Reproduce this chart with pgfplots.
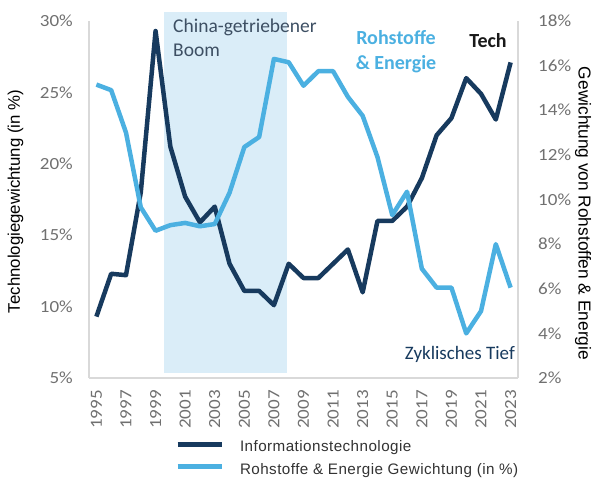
\documentclass[border=0pt]{standalone}
\usepackage{pgfplots}
\pgfplotsset{compat=1.18}
\usepackage{pgfplotstable}
\usepackage{fontspec}
\setmainfont{Carlito}
\newfontfamily\tickfont[FakeStretch=1.12]{Carlito}
\newfontfamily\arialfont{Liberation Sans}
\newfontfamily\legfont[LetterSpace=3]{Liberation Sans}
\definecolor{tech}{HTML}{173A5E}
\definecolor{rohst}{HTML}{4BB0E1}
\definecolor{shade}{HTML}{DAEDF8}
\definecolor{tickgray}{HTML}{707070}
\definecolor{axgray}{HTML}{D9D9D9}
\definecolor{annot}{HTML}{3D4F63}
\definecolor{legtext}{HTML}{333333}

\pgfplotstableread{
year val
1995 9.3
1996 12.3
1997 12.2
1998 18.0
1999 29.3
2000 21.2
2001 17.7
2002 15.9
2003 17.0
2004 13.0
2005 11.1
2006 11.1
2007 10.1
2008 13.0
2009 12.0
2010 12.0
2011 13.0
2012 14.0
2013 11.0
2014 16.0
2015 16.0
2016 17.0
2017 19.0
2018 22.0
2019 23.2
2020 26.0
2021 24.9
2022 23.1
2023 27.1
}\techdata

\pgfplotstableread{
year val
1995 15.15
1996 14.9
1997 13.0
1998 9.65
1999 8.6
2000 8.85
2001 8.95
2002 8.8
2003 8.9
2004 10.3
2005 12.35
2006 12.8
2007 16.3
2008 16.15
2009 15.1
2010 15.75
2011 15.75
2012 14.6
2013 13.75
2014 11.9
2015 9.3
2016 10.35
2017 6.9
2018 6.05
2019 6.05
2020 4.0
2021 5.0
2022 8.0
2023 6.05
}\rohdata

\begin{document}
\begin{tikzpicture}
\path[use as bounding box] (-89pt,-101pt) rectangle (504pt,378pt);
\begin{axis}[
  scale only axis, width=429pt, height=357pt,
  xmin=1994.5, xmax=2023.5, ymin=5, ymax=30,
  axis x line*=bottom, axis y line*=left,
  axis line style={-, draw=axgray, line width=1.2pt},
  major tick length=0pt,
  xtick={1995,1997,...,2023},
  xticklabels={1995,1997,1999,2001,2003,2005,2007,2009,2011,2013,2015,2017,2019,2021,2023},
  ytick={5,10,...,30},
  yticklabels={5\%,10\%,15\%,20\%,25\%,30\%},
  ticklabel style={font=\tickfont\fontsize{17}{17}\selectfont, text=tickgray},
  xticklabel style={rotate=90, anchor=east, inner sep=0pt},
  xticklabel shift=12pt,
  yticklabel style={anchor=east, inner sep=0pt},
  yticklabel shift=16pt,
  clip=false,
]
\addplot[fill=shade, draw=none] coordinates {(1999.55,5.35) (1999.55,30.65) (2007.9,30.65) (2007.9,5.35)} -- cycle;
\addplot[tech, line width=4.5pt, line join=round] table[x=year,y=val]{\techdata};
\end{axis}
\begin{axis}[
  scale only axis, width=429pt, height=357pt,
  xmin=1994.5, xmax=2023.5, ymin=2, ymax=18,
  axis x line=none, axis y line*=right,
  axis line style={-, draw=axgray, line width=1.2pt},
  major tick length=0pt,
  ytick={2,4,...,18},
  yticklabels={2\%,4\%,6\%,8\%,10\%,12\%,14\%,16\%,18\%},
  ticklabel style={font=\tickfont\fontsize{17}{17}\selectfont, text=tickgray},
  yticklabel style={anchor=west, inner sep=0pt},
  yticklabel shift=20pt,
  legend style={at={(axis description cs:0.2,-0.17)}, anchor=north west, draw=none, fill=none,
    font=\legfont\fontsize{15.2}{15.2}\selectfont, text=legtext, row sep=6pt, inner sep=0pt,
    nodes={inner sep=2pt}},
  legend cell align=left,
  legend image code/.code={\draw[#1, line width=5pt] (0pt,3pt) -- (44pt,3pt);},
]
\addlegendimage{tech, line width=5pt}
\addlegendentry{\hspace{14pt}Informationstechnologie}
\addplot[rohst, line width=4.5pt, line join=round] table[x=year,y=val]{\rohdata};
\addlegendentry{\hspace{14pt}Rohstoffe \& Energie Gewichtung (in \%)}
\end{axis}
\node[anchor=base west, inner sep=0pt, text=annot, font=\fontsize{19.5}{20}\selectfont] at (84pt,345pt) {China-getriebener};
\node[anchor=base west, inner sep=0pt, text=annot, font=\fontsize{19.5}{20}\selectfont] at (84pt,321pt) {Boom};
\node[anchor=base, inner sep=0pt, text=rohst, font=\bfseries\fontsize{20}{20}\selectfont] at (307pt,333pt) {Rohstoffe};
\node[anchor=base, inner sep=0pt, text=rohst, font=\bfseries\fontsize{20}{20}\selectfont] at (307pt,308pt) {\& Energie};
\node[anchor=base, inner sep=0pt, text=black!90, font=\bfseries\fontsize{20}{20}\selectfont] at (399pt,330pt) {Tech};
\node[anchor=base east, inner sep=0pt, text=tech, font=\fontsize{19}{19}\selectfont] at (426pt,19pt) {Zyklisches Tief};
\node[rotate=90, inner sep=0pt, font=\arialfont\fontsize{16.8}{16.8}\selectfont] at (-73.5pt,176.5pt) {Technologiegewichtung (in \%)};
\node[rotate=-90, inner sep=0pt, font=\arialfont\fontsize{17.3}{17.3}\selectfont] at (494pt,164.5pt) {Gewichtung von Rohstoffen \& Energie};
\end{tikzpicture}
\end{document}
